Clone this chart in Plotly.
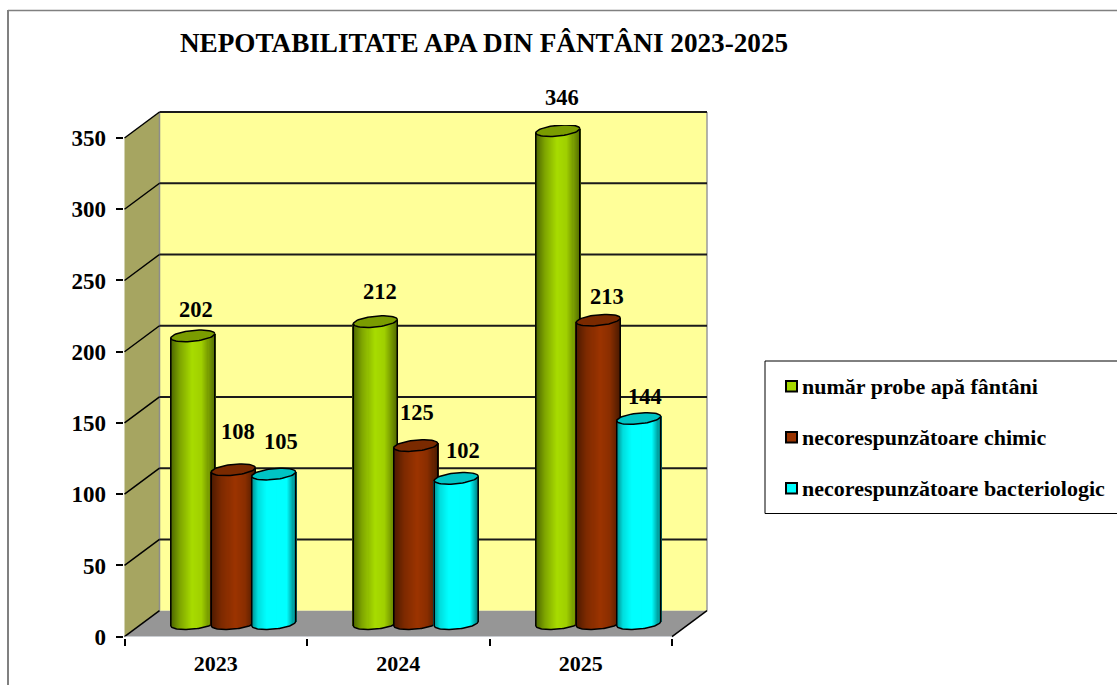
import numpy as np
import plotly.graph_objects as go

# ---------- data ----------
years = ["2023", "2024", "2025"]
series_names = ["număr probe apă fântâni", "necorespunzătoare chimic", "necorespunzătoare bacteriologic"]
probe = [202, 212, 346]
chimic = [108, 125, 213]
bacterio = [105, 102, 144]
y_ticks = [0, 50, 100, 150, 200, 250, 300, 350]
title_text = "NEPOTABILITATE APA DIN FÂNTÂNI 2023-2025"

# ---------- styles / geometry ----------
W, H = 1117, 685
FONT = "Liberation Serif"
FX0, FX1, FY0, FY1 = 124.5, 672.0, 636.7, 138.0     # front plane (px)
DX, DY = 35.0, 26.0                                  # depth of the box (px)
PX_PER_UNIT = (FY0 - FY1) / 350
LOW = -10                                            # room under zero for the cylinder bases
GROUP_STEP = 0.2217
BAR_W = 0.2409
N = 44
TILT = 1.5      # value units
ELL = 3.8       # value units
palettes = [
    [(0, "#4a6300"), (0.22, "#7fa600"), (0.5, "#a8dc00"), (0.72, "#a0d000"), (1, "#566f00")],
    [(0, "#4a1900"), (0.25, "#7d2a00"), (0.55, "#9c3400"), (0.78, "#8a2e00"), (1, "#4f1b00")],
    [(0, "#008a8a"), (0.15, "#00dede"), (0.35, "#00ffff"), (0.82, "#00ffff"), (1, "#008585")],
]
top_colors = ["#7a9c00", "#7a2a00", "#00c4c4"]
legend_colors = ["#a6d900", "#993300", "#00ffff"]
legend_swatch_y = [386.3, 437.3, 488.2]
label_offsets = [
    [(3, 26), (5, 30), (4, 33)],
    [(5, 38), (1, 33), (9, 24)],
    [(7, 33), (7, 28), (6, 22)],
]


def hex2rgb(h):
    return np.array([int(h[i:i + 2], 16) for i in (1, 3, 5)], float)


def shade(pal, t):
    for (a, ca), (b, cb) in zip(pal, pal[1:]):
        if t <= b:
            f = (t - a) / (b - a)
            c = hex2rgb(ca) * (1 - f) + hex2rgb(cb) * f
            return "rgb(%d,%d,%d)" % tuple(c)
    return pal[-1][1]


def px(x):
    return x / W


def py(y):
    return 1 - y / H


def line(x0, y0, x1, y1, color="#000000", width=1.5):
    return dict(type="line", xref="paper", yref="paper", x0=px(x0), y0=py(y0), x1=px(x1), y1=py(y1),
                line=dict(color=color, width=width), layer="below")


def poly(pts, fill):
    d = "M" + " L".join(f"{px(a):.5f},{py(b):.5f}" for a, b in pts) + " Z"
    return dict(type="path", xref="paper", yref="paper", path=d, fillcolor=fill,
                line=dict(width=0), layer="below")


BX0, BX1, BY0, BY1 = FX0 + DX, FX1 + DX, FY0 - DY, FY1 - DY
shapes = [
    # page frame
    line(8, 10.5, W, 10.5, "#808080", 1.5),
    line(8, 10, 8, H, "#808080", 2),
    # walls
    poly([(BX0, BY1), (BX1, BY1), (BX1, BY0), (BX0, BY0)], "#ffff99"),
    poly([(FX0, FY1), (BX0, BY1), (BX0, BY0), (FX0, FY0)], "#a6a561"),
    poly([(FX0, FY0), (BX0, BY0), (BX1, BY0), (FX1, FY0)], "#969696"),
    line(BX0, BY1, BX0, BY0, "#8c8c8c", 1.5),
    line(BX1, BY1, BX1, BY0, "#9a9a9a", 1.5),
    line(FX1, FY0, BX1, BY0, "#000000", 1.5),
    line(FX0, FY0, BX0, BY0, "#000000", 1.5),
    # legend box
    dict(type="rect", xref="paper", yref="paper", x0=px(765), x1=px(W + 5), y0=py(513.5), y1=py(361),
         line=dict(color="#000000", width=1), fillcolor="#ffffff", layer="below"),
]
for sy, col in zip(legend_swatch_y, legend_colors):
    shapes.append(dict(type="rect", xref="paper", yref="paper", x0=px(786), x1=px(797),
                       y0=py(sy + 5.3), y1=py(sy - 5.3), fillcolor=col,
                       line=dict(color="#000000", width=2), layer="below"))
for v in y_ticks[1:]:
    fy = FY0 - v * PX_PER_UNIT
    shapes.append(line(BX0, fy - DY, BX1, fy - DY, "#1a1a1a", 2))
    shapes.append(line(FX0, fy, BX0, fy - DY, "#000000", 1.5))

fig = go.Figure()

# zero-height trace on the front axes so the category axis is drawn
fig.add_trace(go.Bar(x=years, y=[0, 0, 0], xaxis="x", yaxis="y", showlegend=False, hoverinfo="skip"))

all_series = [probe, chimic, bacterio]
u = np.linspace(-1, 1, N)
strip_w = BAR_W / (N - 1) * 1.3
half = BAR_W / 2
annotations = []
for s, vals in enumerate(all_series):
    off = (s - 1) * GROUP_STEP
    xs, ys, bases, cols = [], [], [], []
    for i, v in enumerate(vals):
        c = i + off
        for ui in u:
            b = TILT * ui - ELL * np.sqrt(1 - ui ** 2)
            xs.append(c + ui * half)
            bases.append(b)
            ys.append(v + TILT * ui - b)
            cols.append(shade(palettes[s], (ui + 1) / 2))
    fig.add_trace(go.Bar(x=xs, y=ys, base=bases, width=strip_w, xaxis="x2", yaxis="y2",
                         marker=dict(color=cols, line=dict(width=0)), showlegend=False,
                         hoverinfo="skip", zorder=s * 3))
    for i, v in enumerate(vals):
        c = i + off
        # body outline (through the base curve)
        ox = c + u * half
        oy = TILT * u - ELL * np.sqrt(1 - u ** 2)
        ox2 = np.r_[ox[0], ox, ox[-1]]
        oy2 = np.r_[v - TILT, oy, v + TILT]
        fig.add_trace(go.Scatter(x=ox2, y=oy2, xaxis="x2", yaxis="y2", mode="lines",
                                 line=dict(color="#000000", width=1.5), showlegend=False,
                                 hoverinfo="skip", zorder=s * 3 + 1))
        # top ellipse
        t = np.linspace(0, 2 * np.pi, 60)
        ex = c + half * np.cos(t)
        ey = v + TILT * np.cos(t) + ELL * np.sin(t)
        fig.add_trace(go.Scatter(x=ex, y=ey, xaxis="x2", yaxis="y2", mode="lines", fill="toself",
                                 fillcolor=top_colors[s], line=dict(color="#000000", width=1.5),
                                 showlegend=False, hoverinfo="skip", zorder=s * 3 + 2))
        dx, dy = label_offsets[s][i]
        annotations.append(dict(x=c, y=v, xref="x2", yref="y2", text=str(v), showarrow=False,
                                xshift=dx, yshift=dy,
                                font=dict(family=FONT, size=22.5, color="#000000", weight=700)))

# legend entries (their swatches are the squares drawn in the box above)
for name in series_names:
    fig.add_trace(go.Scatter(x=[None], y=[None], xaxis="x2", yaxis="y2", mode="markers", name=name,
                             legendgroup=name,
                             marker=dict(symbol="square", size=10, color="rgba(0,0,0,0)")))

tick_font = dict(family=FONT, size=23, color="#000000", weight=700)
year_font = dict(family=FONT, size=22, color="#000000", weight=700)
fig.update_layout(
    width=W, height=H, margin=dict(l=0, r=0, t=0, b=0, pad=0, autoexpand=False),
    paper_bgcolor="#ffffff", plot_bgcolor="rgba(0,0,0,0)",
    barmode="overlay", bargap=0,
    title=dict(text=title_text, x=484 / W, xanchor="center", y=py(42.3), yanchor="middle", xref="paper", yref="paper",
               font=dict(family=FONT, size=27.2, color="#000000", weight=700)),
    xaxis=dict(domain=[px(FX0), px(FX1)], anchor="y", type="category", categoryorder="array", categoryarray=years,
               tickson="boundaries", ticks="outside", ticklen=7, tickwidth=1.5, tickcolor="#000000",
               showline=True, linecolor="#000000", linewidth=2, showgrid=False, zeroline=False,
               tickfont=year_font, ticklabelstandoff=6, fixedrange=True),
    yaxis=dict(domain=[py(FY0), py(FY1)], anchor="x", range=[0, 350], tickvals=y_ticks,
               ticks="outside", ticklen=7, tickwidth=1.5, tickcolor="#000000",
               showline=True, linecolor="#000000", linewidth=2, showgrid=False, zeroline=False,
               tickfont=tick_font, ticklabelstandoff=5, fixedrange=True),
    xaxis2=dict(domain=[px(FX0 + DX / 2), px(FX1 + DX / 2)], anchor="y2", range=[-0.5, 2.5], visible=False,
                fixedrange=True),
    yaxis2=dict(domain=[py(FY0 - DY / 2 - LOW * PX_PER_UNIT), py(FY1 - DY / 2)], anchor="x2", range=[LOW, 350],
                visible=False, fixedrange=True),
    shapes=shapes, annotations=annotations,
    legend=dict(x=px(762), xanchor="left", y=py(364.5), yanchor="top", bgcolor="rgba(0,0,0,0)", borderwidth=0,
                tracegroupgap=19.4, traceorder="grouped",
                font=dict(family=FONT, size=22, color="#000000", weight=700)),
)

fig.write_html("out.html", post_script="document.body.style.margin='0';window.dispatchEvent(new Event('resize'));",
               config=dict(displayModeBar=False))
